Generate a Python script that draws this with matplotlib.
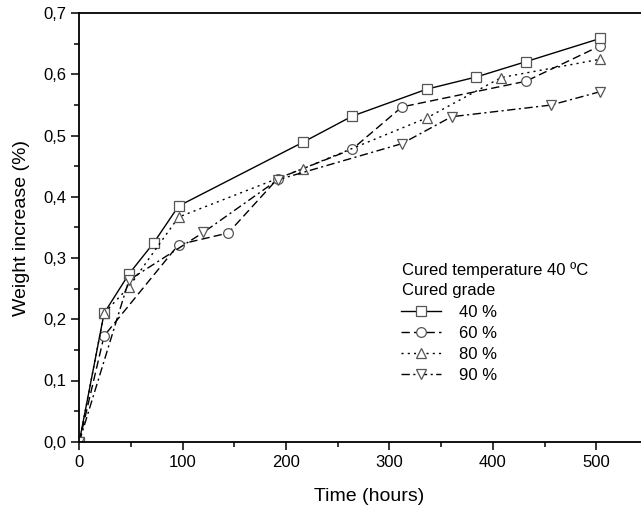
import matplotlib
matplotlib.use('Agg')
import matplotlib.pyplot as plt
from matplotlib.ticker import MultipleLocator, FuncFormatter

plt.rcParams['font.family'] = ['Liberation Sans', 'DejaVu Sans']

# data
t40 = [0, 24, 48, 72, 96, 216, 264, 336, 384, 432, 504]
w40 = [0.0, 0.21, 0.274, 0.325, 0.385, 0.489, 0.532, 0.576, 0.596, 0.621, 0.659]

t60 = [0, 24, 96, 144, 192, 264, 312, 432, 504]
w60 = [0.0, 0.173, 0.322, 0.341, 0.43, 0.478, 0.547, 0.589, 0.647]

t80 = [0, 24, 48, 96, 216, 336, 408, 504]
w80 = [0.0, 0.21, 0.253, 0.367, 0.446, 0.529, 0.595, 0.625]

t90 = [0, 48, 120, 192, 312, 360, 456, 504]
w90 = [0.0, 0.264, 0.342, 0.428, 0.487, 0.531, 0.55, 0.572]

labels = ['40 %', '60 %', '80 %', '90 %']

fig = plt.figure(figsize=(6.41, 5.14), dpi=100)
# right end of the axis is cut off by the figure edge, as in the original
ax = fig.add_axes([79.3 / 641, 1 - 441.7 / 514, 579 / 641, (441.7 - 13.3) / 514])

mk = dict(markersize=7, markerfacecolor='white', markeredgecolor='#555555',
          markeredgewidth=0.9, color='black', linewidth=1.0)

l60, = ax.plot(t60, w60, marker='o', dashes=(6, 3), label=labels[1], **mk)
l40, = ax.plot(t40, w40, marker='s', linestyle='-', label=labels[0], **mk)
l80, = ax.plot(t80, w80, marker='^', dashes=(1.5, 3), label=labels[2], **mk)
l90, = ax.plot(t90, w90, marker='v', dashes=(6, 2.5, 1.5, 2.5), label=labels[3], **mk)

ax.set_xlim(0, 560)
ax.set_ylim(0, 0.7)
ax.xaxis.set_major_locator(MultipleLocator(100))
ax.xaxis.set_minor_locator(MultipleLocator(50))
ax.yaxis.set_major_locator(MultipleLocator(0.1))
ax.yaxis.set_minor_locator(MultipleLocator(0.05))
ax.yaxis.set_major_formatter(FuncFormatter(lambda v, p: f'{v:.1f}'.replace('.', ',')))
ax.tick_params(which='major', direction='out', length=6, width=1.1, labelsize=12)
ax.tick_params(which='minor', direction='out', length=3.3, width=1.1)
ax.tick_params(axis='y', which='major', pad=3)
for s in ax.spines.values():
    s.set_linewidth(1.3)

ax.set_xlabel('Time (hours)', fontsize=14, labelpad=13)
ax.set_ylabel('Weight increase (%)', fontsize=14, labelpad=10)

fig.text(401.7 / 641, 1 - 270 / 514, 'Cured temperature 40 ºC', fontsize=12, va='center')
fig.text(401.7 / 641, 1 - 290 / 514, 'Cured grade', fontsize=12, va='center')
fig.legend(handles=[l40, l60, l80, l90], labels=labels, loc='upper left',
           bbox_to_anchor=(400.7 / 641, 1 - 305 / 514), frameon=False,
           fontsize=12, borderpad=0, borderaxespad=0, handlelength=2.4,
           handletextpad=1.1, labelspacing=0.36, numpoints=1)

fig.savefig('out.png', dpi=100)
